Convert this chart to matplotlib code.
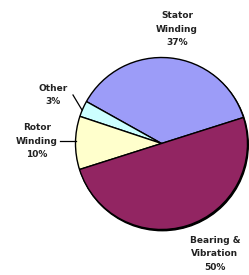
import matplotlib
matplotlib.use("Agg")
import matplotlib.pyplot as plt
from matplotlib.patches import Circle

labels = ["Stator\nWinding\n37%", "Other\n3%", "Rotor\nWinding\n10%", "Bearing &\nVibration\n50%"]
shares = [37, 3, 10, 50]
colors = ["#9C9CF8", "#CCFFFF", "#FFFFCC", "#922562"]

W, H = 249, 275
fig = plt.figure(figsize=(W / 100, H / 100), dpi=100)
ax = fig.add_axes([0, 0, 1, 1])

cx, cy, r = 161.5, H - 143.5, 86

# soft shadow on the lower right rim
ax.add_patch(Circle((cx + 0.8, cy - 1.2), r, color="black", zorder=1))

ax.pie(shares, colors=colors, startangle=17.6, counterclock=True,
       center=(cx, cy), radius=r, frame=True,
       wedgeprops=dict(edgecolor="black", linewidth=1.0, zorder=2))
ax.set_xlim(0, W)
ax.set_ylim(0, H)
ax.set_aspect("equal")
ax.axis("off")

font = dict(family="DejaVu Sans", fontsize=6.5, fontweight="bold",
            ha="center", va="center", linespacing=1.6, color="#222222")
label_pos = [(177, H - 29), (53, H - 95), (37, H - 141), (215, H - 254)]
for text, (x, y) in zip(labels, label_pos):
    ax.text(x, y, text, **font)

# leader lines
ax.plot([73, 82], [H - 95, H - 110], color="black", lw=0.9)
ax.plot([60, 76], [H - 141, H - 141], color="black", lw=0.9)

fig.savefig("out.png", dpi=100, facecolor="white")
